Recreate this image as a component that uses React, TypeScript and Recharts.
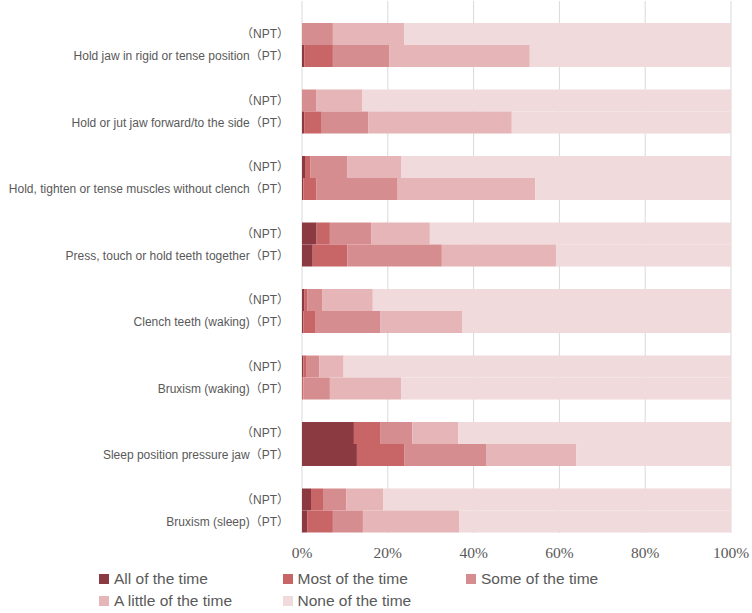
import React from 'react';
import { BarChart, Bar, XAxis, YAxis, CartesianGrid, Legend } from 'recharts';

const behaviours = [
  'Hold jaw in rigid or tense position',
  'Hold or jut jaw forward/to the side',
  'Hold, tighten or tense muscles without clench',
  'Press, touch or hold teeth together',
  'Clench teeth (waking)',
  'Bruxism (waking)',
  'Sleep position pressure jaw',
  'Bruxism (sleep)',
];

const levels = ['All of the time', 'Most of the time', 'Some of the time', 'A little of the time', 'None of the time'];
const levelKeys = ['all', 'most', 'some', 'little', 'none'];
const colors = ['#8c3a42', '#c86567', '#d68d8f', '#e5b5b7', '#f0dadb'];

// percentages, one array per level, rows in the same order as behaviours
const nptAll = [0, 0, 0.7, 3.4, 0.5, 0.3, 12.1, 2.1];
const nptMost = [0, 0, 1.2, 3.1, 0.8, 0.8, 6.1, 2.8];
const nptSome = [7.2, 3.4, 8.7, 9.6, 3.5, 2.9, 7.5, 5.4];
const nptLittle = [16.6, 10.7, 12.6, 13.7, 11.7, 5.7, 10.7, 8.6];
const nptNone = [76.2, 85.9, 76.8, 70.2, 83.5, 90.3, 63.6, 81.1];

const ptAll = [0.5, 0.5, 0.3, 2.5, 0.3, 0, 12.8, 1.2];
const ptMost = [6.7, 4.1, 3.0, 8.1, 2.9, 0.3, 11.0, 6.0];
const ptSome = [13.1, 10.9, 19.0, 22.0, 15.0, 6.2, 19.1, 7.0];
const ptLittle = [32.8, 33.4, 32.1, 26.6, 19.1, 16.6, 21.0, 22.4];
const ptNone = [46.9, 51.1, 45.6, 40.8, 62.7, 76.9, 36.1, 63.4];

const xTicks = [0, 20, 40, 60, 80, 100];

const nptSeries = [nptAll, nptMost, nptSome, nptLittle, nptNone];
const ptSeries = [ptAll, ptMost, ptSome, ptLittle, ptNone];

const data = behaviours.map((name, i) => {
  const row: Record<string, string | number> = { name };
  levelKeys.forEach((k, j) => {
    row['npt_' + k] = nptSeries[j][i];
    row['pt_' + k] = ptSeries[j][i];
  });
  return row;
});

const labelFont = '"Liberation Sans", Arial, "Noto Sans CJK SC", sans-serif';
const serifFont = '"Liberation Serif", "Times New Roman", serif';

const GroupTick = (props: any) => {
  const { x, y, payload } = props;
  return (
    <g>
      <text x={x} y={y - 11} dy="0.35em" textAnchor="end" fill="#595959" fontSize={12} fontFamily={labelFont}>
        （NPT）
      </text>
      <text x={x} y={y + 11} dy="0.35em" textAnchor="end" fill="#595959" fontSize={12} fontFamily={labelFont}>
        {payload.value}（PT）
      </text>
    </g>
  );
};

const PercentTick = (props: any) => {
  const { x, y, payload } = props;
  return (
    <text x={x} y={y} dy="0.71em" textAnchor="middle" fill="#595959" fontSize={15.5} fontFamily={serifFont}>
      {payload.value}%
    </text>
  );
};

const LegendBox = (props: any) => {
  const items = (props.payload || [])
    .filter((p: any) => String(p.dataKey).startsWith('npt_'))
    .sort((a: any, b: any) => levels.indexOf(a.value) - levels.indexOf(b.value));
  return (
    <div style={{ display: 'flex', flexWrap: 'wrap', paddingLeft: 99, paddingTop: 5, width: 560 }}>
      {items.map((p: any) => (
        <div key={p.value} style={{ width: 183.5, height: 22, display: 'flex', alignItems: 'center' }}>
          <span style={{ width: 10, height: 10, background: p.color, marginRight: 5, display: 'inline-block' }} />
          <span style={{ fontSize: 15.5, color: '#595959', fontFamily: labelFont }}>{p.value}</span>
        </div>
      ))}
    </div>
  );
};

const App: React.FC = () => {
  return (
    <div style={{ position: 'absolute', left: 0, top: 0 }}>
      <BarChart
        width={752}
        height={613}
        data={data}
        layout="vertical"
        margin={{ top: 1, right: 21, left: 0, bottom: 0 }}
        barSize={22}
        barGap={0}
      >
        <CartesianGrid horizontal={false} stroke="#d9d9d9" />
        <XAxis
          type="number"
          domain={[0, 100]}
          ticks={xTicks}
          axisLine={false}
          tickLine={false}
          tickSize={0}
          tickMargin={14}
          height={30}
          tick={<PercentTick />}
        />
        <YAxis
          type="category"
          dataKey="name"
          width={302}
          axisLine={false}
          tickLine={false}
          tickSize={0}
          tickMargin={13}
          padding={{ top: 11, bottom: -11 }}
          tick={<GroupTick />}
          interval={0}
        />
        <Legend verticalAlign="bottom" align="left" height={50} content={<LegendBox />} />
        {levelKeys.map((k, j) => (
          <Bar
            key={'npt_' + k}
            dataKey={'npt_' + k}
            name={levels[j]}
            stackId="npt"
            fill={colors[j]}
            isAnimationActive={false}
          />
        ))}
        {levelKeys.map((k, j) => (
          <Bar
            key={'pt_' + k}
            dataKey={'pt_' + k}
            name={levels[j]}
            stackId="pt"
            fill={colors[j]}
            legendType="none"
            isAnimationActive={false}
          />
        ))}
      </BarChart>
    </div>
  );
};

export default App;
